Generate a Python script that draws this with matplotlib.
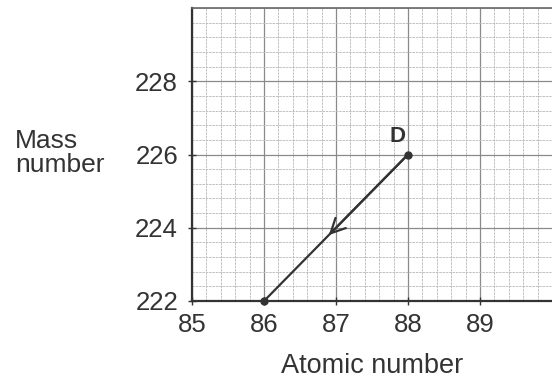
import numpy as np
import matplotlib
matplotlib.use("Agg")
from matplotlib import pyplot as plt

# decay D: (88, 226) -> (86, 222)
atomic = [88, 86]
mass = [226, 222]
x_ticks = [85, 86, 87, 88, 89]
y_ticks = [222, 224, 226, 228]

plt.rcParams['font.family'] = ['Liberation Sans', 'DejaVu Sans']

fig = plt.figure(figsize=(5.52, 3.81), dpi=100)
ax = fig.add_axes([192/552, 80/381, 1-192/552, (301-8)/381])
ax.set_xlim(85, 85+360/73.5)
ax.set_ylim(222, 230)

# graph paper
ax.set_xticks(np.arange(85, 90.01, 0.2), minor=True)
ax.set_yticks(np.arange(222, 230.01, 0.4), minor=True)
ax.grid(which='minor', color='#b8b8b8', linewidth=0.6, linestyle=(0, (3, 1)))
ax.grid(which='major', color='#8a8a8a', linewidth=0.9)
ax.tick_params(which='minor', length=0)

ax.set_xticks(x_ticks)
ax.set_yticks(y_ticks)
ax.tick_params(which='major', labelsize=18.5, colors='#333333', length=6, width=1, direction='inout')
ax.tick_params(axis='y', pad=7)
ax.tick_params(axis='x', pad=6)

for s in ['left', 'bottom']:
    ax.spines[s].set_linewidth(1.6)
    ax.spines[s].set_color('#333333')
ax.spines['top'].set_color('#666666')
ax.spines['top'].set_linewidth(1.2)
ax.spines['right'].set_visible(False)

ax.set_xlabel('Atomic number', fontsize=19.5, color='#333333', labelpad=11)
fig.text(15/552, 1-153/381, 'Mass\nnumber', fontsize=19, color='#333333', va='center', ha='left', linespacing=1.0)

# path with arrow
ax.plot(atomic, mass, color='#333333', linewidth=1.6, marker='o', markersize=5, zorder=5, clip_on=False)
ax.annotate('', xy=(86.9, 223.8), xytext=(88, 226),
            arrowprops=dict(arrowstyle='->', color='#333333', lw=1.6, mutation_scale=26,
                            shrinkA=0, shrinkB=0), zorder=6)
ax.text(87.85, 226.5, 'D', fontsize=16, fontweight='bold', color='#333333', ha='center', va='center')

plt.savefig('out.png', dpi=100)
